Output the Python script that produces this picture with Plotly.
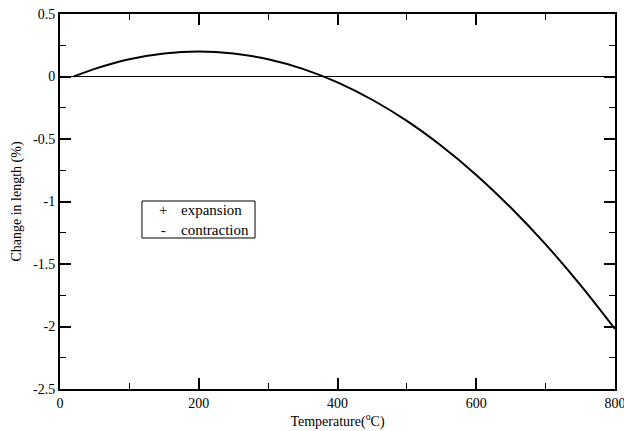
import plotly.graph_objects as go

# Data
temperature = [20, 50, 100, 150, 200, 250, 300, 350, 400, 450, 500, 550, 600, 650, 700, 750, 800]
change_pct = [0.0, 0.061, 0.138, 0.184, 0.200, 0.184, 0.138, 0.061, -0.047, -0.186, -0.355,
              -0.556, -0.787, -1.05, -1.343, -1.667, -2.02]
zero_x = [0, 800]
zero_y = [0, 0]
x_ticks = [0, 200, 400, 600, 800]
y_ticks = [0.5, 0, -0.5, -1, -1.5, -2, -2.5]
y_tick_labels = ["0.5", "0", "-0.5", "-1", "-1.5", "-2", "-2.5"]
legend_symbols = ["+", "-"]
legend_words = ["expansion", "contraction"]

font = "Times New Roman"

fig = go.Figure()
fig.add_trace(go.Scatter(x=zero_x, y=zero_y, mode="lines",
                         line=dict(color="black", width=1), showlegend=False))
fig.add_trace(go.Scatter(x=temperature, y=change_pct, mode="lines", line_shape="spline",
                         line=dict(color="black", width=2), showlegend=False))

axis_common = dict(showgrid=False, zeroline=False, showline=True, linecolor="black",
                   linewidth=2, mirror="allticks", ticks="inside", ticklen=11,
                   tickwidth=1.5, tickcolor="black", automargin=False,
                   ticklabeloverflow="allow",
                   tickfont=dict(family=font, size=14, color="black"))

fig.update_xaxes(range=[0, 800], tickvals=x_ticks, ticktext=[str(v) for v in x_ticks],
                 minor=dict(dtick=100, ticks="inside", ticklen=6, tickwidth=1, tickcolor="black"),
                 title=dict(text="Temperature(<sup>o</sup>C)", font=dict(family=font, size=14, color="black"),
                            standoff=2),
                 **axis_common)
fig.update_yaxes(range=[-2.5, 0.5], tickvals=y_ticks, ticktext=y_tick_labels,
                 minor=dict(dtick=0.25, ticks="inside", ticklen=6, tickwidth=1, tickcolor="black"),
                 title=dict(text="Change in length (%)", font=dict(family=font, size=14, color="black"),
                            standoff=8),
                 **axis_common)

# legend box
fig.add_shape(type="rect", xref="paper", yref="paper", x0=0.1477, x1=0.3514, y0=0.4027, y1=0.5013,
              line=dict(color="black", width=1), fillcolor="white", layer="above")
fig.add_annotation(x=0.1856, y=0.4507, xref="paper", yref="paper", xanchor="center", yanchor="middle",
                   text="<br>".join(legend_symbols), showarrow=False, borderpad=0,
                   font=dict(family=font, size=15, color="black"))
fig.add_annotation(x=0.2162, y=0.4507, xref="paper", yref="paper", xanchor="left", yanchor="middle",
                   text="<br>".join(legend_words), align="left", showarrow=False, borderpad=0,
                   font=dict(family=font, size=15, color="black"))

fig.update_layout(width=624, height=431, margin=dict(l=60, r=9, t=14, b=42),
                  plot_bgcolor="white", paper_bgcolor="white",
                  font=dict(family=font, color="black"))

fig.write_html("out.html")
